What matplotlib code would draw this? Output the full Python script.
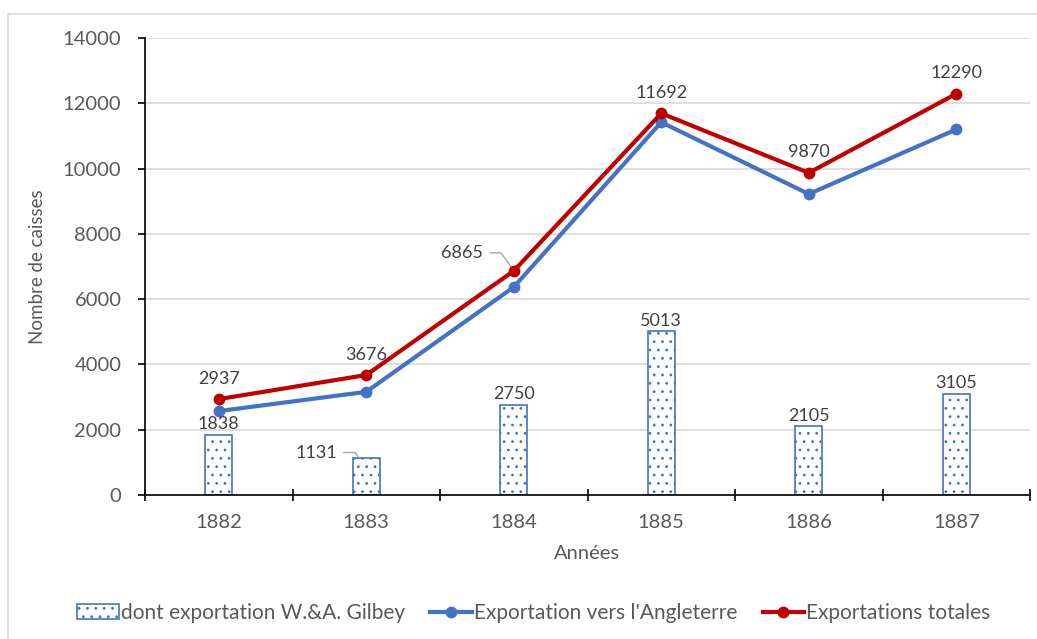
import matplotlib
matplotlib.use('Agg')
import matplotlib.pyplot as plt
from matplotlib.patches import Rectangle
import numpy as np

years = ['1882', '1883', '1884', '1885', '1886', '1887']
gilbey = [1838, 1131, 2750, 5013, 2105, 3105]
angleterre = [2570, 3160, 6370, 11420, 9220, 11200]
totales = [2937, 3676, 6865, 11692, 9870, 12290]

blue = '#4472C4'
red = '#C00000'
gray_text = '#595959'

plt.rcParams['font.family'] = ['Lato', 'DejaVu Sans']
plt.rcParams['hatch.color'] = blue
plt.rcParams['hatch.linewidth'] = 0.8

fig = plt.figure(figsize=(10.37, 6.39), dpi=100)
ax = fig.add_axes([145 / 1037, 1 - 495 / 639, 885 / 1037, 457 / 639])

# cadre du graphique
fig.patches.append(Rectangle((8 / 1037, -0.1), 1.2, 1 - 14 / 639 + 0.1,
                             transform=fig.transFigure, fill=False,
                             edgecolor='#D9D9D9', linewidth=1.2))

x = np.arange(len(years))
bars = ax.bar(x, gilbey, width=0.18, color='white', edgecolor=blue,
              linewidth=1.2, hatch='..', zorder=2)
l1, = ax.plot(x, angleterre, color=blue, lw=3, marker='o', ms=7.5, zorder=3)
l2, = ax.plot(x, totales, color=red, lw=3, marker='o', ms=7.5, zorder=4)

fs_lab = 13
lab = dict(fontsize=fs_lab, color='#404040', ha='center', va='bottom')
leader = dict(arrowstyle='-', color='#A6A6A6', lw=1, shrinkA=3, shrinkB=1,
              connectionstyle='angle,angleA=0,angleB=125,rad=0')
for i, v in enumerate(gilbey):
    if i == 1:
        ax.annotate(str(v), (x[i] - 0.05, v), xytext=(-16, 4),
                    textcoords='offset points', ha='right', va='center',
                    fontsize=fs_lab, color='#404040', arrowprops=leader)
    else:
        ax.annotate(str(v), (x[i], v), xytext=(0, 2), textcoords='offset points', **lab)
for i, v in enumerate(totales):
    if i == 2:
        ax.annotate(str(v), (x[i], v), xytext=(-22, 13), textcoords='offset points',
                    ha='right', va='center', fontsize=fs_lab, color='#404040',
                    arrowprops=leader)
    else:
        ax.annotate(str(v), (x[i], v), xytext=(0, 9), textcoords='offset points', **lab)

ax.set_xlim(-0.5, len(years) - 0.5)
ax.set_ylim(0, 14000)
ax.set_yticks(np.arange(0, 14001, 2000))
ax.set_xticks(x)
ax.set_xticklabels(years)
ax.set_xticks(np.arange(-0.5, len(years)), minor=True)
ax.tick_params(axis='x', which='major', length=0, pad=14, labelsize=14.5,
               labelcolor=gray_text)
ax.tick_params(axis='x', which='minor', length=8, width=1.2, direction='inout',
               color='black')
ax.tick_params(axis='y', length=5, width=1.2, labelsize=14.5, labelcolor=gray_text,
               pad=12)
ax.grid(axis='y', color='#D9D9D9', lw=1.2, zorder=0)
ax.set_axisbelow(True)
for s in ['top', 'right']:
    ax.spines[s].set_visible(False)
ax.spines['left'].set_linewidth(1.2)
ax.spines['bottom'].set_linewidth(1.2)

ax.set_xlabel('Années', fontsize=14.5, color=gray_text, labelpad=10)
ax.set_ylabel('Nombre de caisses', fontsize=13.5, color=gray_text, labelpad=12)

fig.legend([bars, l1, l2],
           ['dont exportation W.&A. Gilbey', "Exportation vers l'Angleterre",
            'Exportations totales'],
           loc='center', bbox_to_anchor=(534 / 1037, 1 - 613 / 639), ncol=3,
           frameon=False, fontsize=15, labelcolor=gray_text, handlelength=2.0,
           handletextpad=0.1, columnspacing=1.2)

fig.savefig('out.png', dpi=100)
